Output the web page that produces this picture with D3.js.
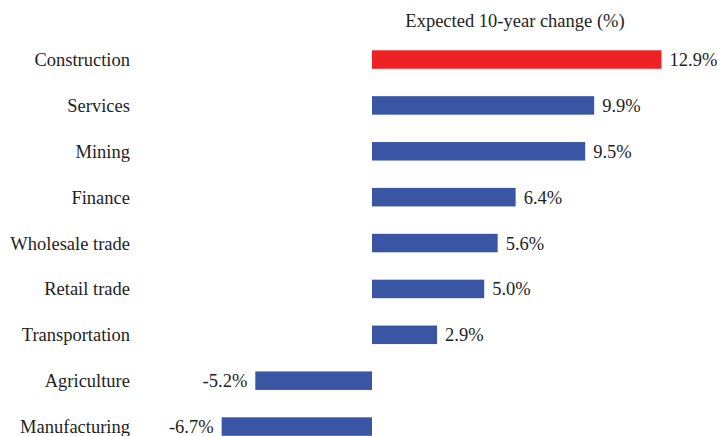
<!DOCTYPE html>
<html><head><meta charset="utf-8">
<script src="https://d3js.org/d3.v7.min.js"></script>
<style>body{margin:0;background:#fff}svg{display:block}text{font-family:"Liberation Serif","Times New Roman",Times,serif;}</style>
</head><body>
<script>
const categories = ["Construction","Services","Mining","Finance","Wholesale trade","Retail trade","Transportation","Agriculture","Manufacturing"];
const values = [12.9, 9.9, 9.5, 6.4, 5.6, 5.0, 2.9, -5.2, -6.7];
const highlight = ["Construction"];
const title = "Expected 10-year change (%)";

const W = 717, H = 436;
const svg = d3.select("body").append("svg").attr("width", W).attr("height", H);
const fs = 18.5;

const x = d3.scaleLinear().domain([0, 12.9]).range([372, 661.5]);
const y = d3.scaleBand().domain(categories).range([36.6, 449.5]).paddingInner(0.6).paddingOuter(0.3);
const bh = 18.5;
const cy = d => y(d) + y.bandwidth() / 2;

svg.append("text").attr("x", 515).attr("y", 27).attr("text-anchor", "middle")
  .attr("font-size", fs).attr("fill", "#1e1e1e").text(title);

const rows = svg.selectAll("g.row").data(categories.map((c, i) => ({c, v: values[i]})))
  .enter().append("g");

rows.append("rect")
  .attr("x", d => x(Math.min(0, d.v)))
  .attr("width", d => Math.abs(x(d.v) - x(0)))
  .attr("y", d => cy(d.c) - bh / 2)
  .attr("height", bh)
  .attr("fill", d => highlight.includes(d.c) ? "#EE2225" : "#3A55A4");

rows.append("text")
  .attr("x", 130).attr("y", d => cy(d.c)).attr("dy", "0.35em")
  .attr("text-anchor", "end").attr("font-size", fs).attr("fill", "#1e1e1e")
  .text(d => d.c);

rows.append("text")
  .attr("x", d => d.v >= 0 ? x(d.v) + 8 : x(d.v) - 8)
  .attr("y", d => cy(d.c)).attr("dy", "0.35em")
  .attr("text-anchor", d => d.v >= 0 ? "start" : "end")
  .attr("font-size", fs).attr("fill", "#1e1e1e")
  .text(d => d.v.toFixed(1) + "%");
</script>
</body></html>
